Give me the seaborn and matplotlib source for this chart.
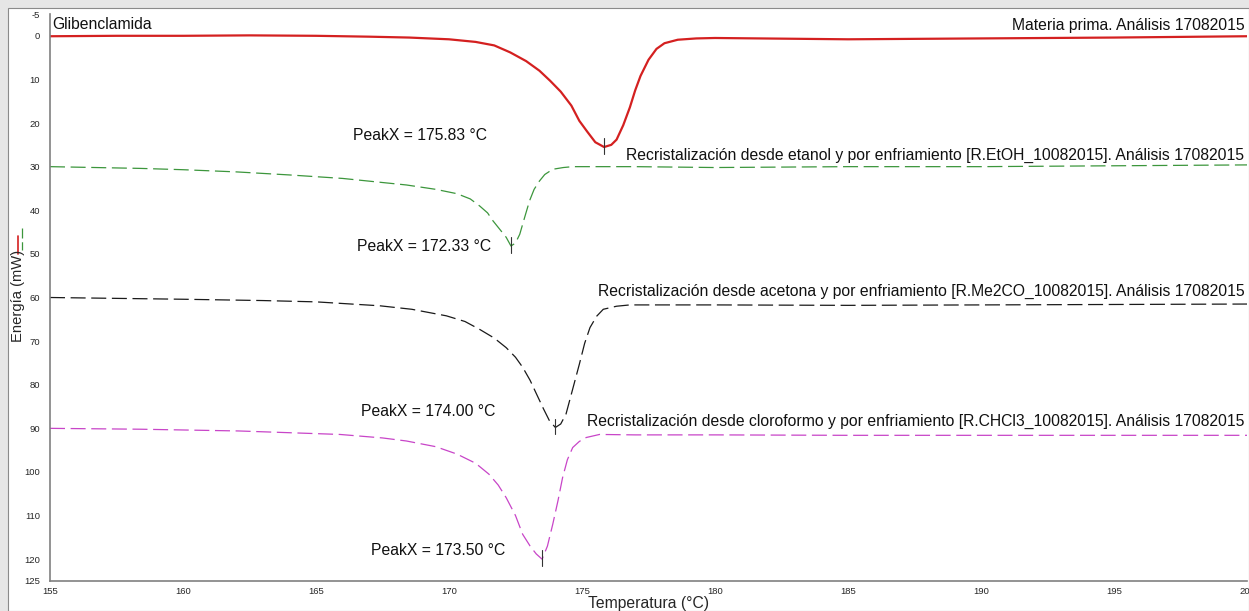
import numpy as np
import pandas as pd
import matplotlib
matplotlib.use("Agg")
import matplotlib.pyplot as plt
from matplotlib.lines import Line2D
from matplotlib.patches import Rectangle
import seaborn as sns

# ---------------- data ----------------
red_T = [155, 157.5, 160, 162.5, 165, 167, 168.5, 170, 171, 171.7, 172.3, 172.9, 173.4, 173.8,
         174.2, 174.6, 174.9, 175.2, 175.5, 175.83, 176.1, 176.3, 176.55, 176.8, 177.0, 177.2,
         177.5, 177.8, 178.1, 178.6, 179.3, 180, 185, 190, 195, 200]
red_E = [0.1, 0.0, 0.0, -0.1, 0.0, 0.2, 0.4, 0.8, 1.4, 2.2, 3.8, 5.8, 8.0, 10.3,
         12.8, 16.0, 19.5, 22.0, 24.4, 25.5, 25.0, 23.8, 20.5, 16.4, 12.5, 9.2,
         5.5, 3.0, 1.7, 0.9, 0.6, 0.5, 0.8, 0.6, 0.4, 0.1]

green_T = [155, 158.4, 160, 162, 164, 166, 168.4, 169.5, 170.3, 170.8, 171.15, 171.45, 171.65,
           171.9, 172.15, 172.33, 172.5, 172.66, 172.85, 173.03, 173.2, 173.4, 173.6, 173.9,
           174.3, 174.65, 177, 180, 185, 190, 195, 200]
green_E = [30.0, 30.4, 30.7, 31.2, 31.9, 32.7, 34.2, 35.2, 36.2, 37.4, 39.0, 40.6, 42.4,
           44.3, 46.2, 48.2, 47.5, 45.5, 41.5, 37.8, 35.2, 33.3, 31.8, 30.6,
           30.2, 30.0, 30.0, 30.2, 30.0, 30.0, 29.8, 29.6]

black_T = [155, 160, 163, 165, 167.4, 168.6, 169.9, 170.6, 171.15, 171.7, 172.15, 172.5, 172.77,
           173.05, 173.28, 173.55, 173.78, 174.0, 174.2, 174.4, 174.65, 174.9, 175.1, 175.3,
           175.55, 175.8, 176.3, 176.8, 180, 185, 190, 195, 200]
black_E = [60.0, 60.4, 60.7, 61.0, 61.9, 62.7, 64.2, 65.5, 67.3, 69.3, 71.5, 73.7, 76.0,
           79.0, 82.0, 85.5, 88.3, 89.8, 89.0, 86.7, 81.0, 75.3, 70.5, 66.9,
           64.3, 62.7, 62.0, 61.7, 61.7, 61.8, 61.7, 61.6, 61.5]

mag_T = [155, 158.4, 162.1, 165.9, 167.5, 168.4, 169.5, 170.3, 171.0, 171.5, 171.85, 172.15,
         172.5, 172.77, 173.05, 173.28, 173.5, 173.7, 173.9, 174.1, 174.27, 174.45, 174.65,
         174.9, 175.16, 175.66, 177, 180, 185, 190, 195, 200]
mag_E = [90.0, 90.2, 90.6, 91.4, 92.2, 92.9, 94.2, 95.9, 98.0, 100.5, 103.0, 105.9,
         110.0, 114.3, 117.0, 118.8, 120.0, 117.0, 112.0, 106.5, 101.3, 97.2, 94.4,
         93.0, 92.1, 91.4, 91.5, 91.5, 91.6, 91.6, 91.6, 91.6]

peak_T = [175.83, 172.33, 174.00, 173.50]
peak_E = [25.5, 48.2, 89.8, 120.0]
peak_labels = ["PeakX = 175.83 °C", "PeakX = 172.33 °C", "PeakX = 174.00 °C", "PeakX = 173.50 °C"]

series_titles = [
    "Materia prima. Análisis 17082015",
    "Recristalización desde etanol y por enfriamiento [R.EtOH_10082015]. Análisis 17082015",
    "Recristalización desde acetona y por enfriamiento [R.Me2CO_10082015]. Análisis 17082015",
    "Recristalización desde cloroformo y por enfriamiento [R.CHCl3_10082015]. Análisis 17082015",
]
x_ticks = [155, 160, 165, 170, 175, 180, 185, 190, 195, 200]
y_ticks = [-5, 0, 10, 20, 30, 40, 50, 60, 70, 80, 90, 100, 110, 120, 125]

# ---------------- style ----------------
sns.set_style("white")
plt.rcParams['font.family'] = ['Liberation Sans', 'DejaVu Sans']

W, H = 1249, 611
FS = 11.3
fig = plt.figure(figsize=(W / 100, H / 100), dpi=100)
fig.patch.set_facecolor('#e6e6e6')
fig.patches.append(Rectangle((8 / W, 0), 1 - 8 / W, 1 - 8 / H, transform=fig.transFigure,
                             facecolor='white', edgecolor='#8a8a8a', linewidth=0.8, zorder=-10))

ax = fig.add_axes([50 / W, 1 - 581 / H, (1247 - 50) / W, (581 - 14) / H])
ax.set_facecolor('none')
ax.set_zorder(2)

colors = ['#d42020', '#3c963c', '#1a1a1a', '#c845c8']
datasets = [(red_T, red_E), (green_T, green_E), (black_T, black_E), (mag_T, mag_E)]
for i, (T, E) in enumerate(datasets):
    df = pd.DataFrame({'T': T, 'E': E})
    if i == 0:
        sns.lineplot(data=df, x='T', y='E', ax=ax, color=colors[i], linewidth=1.6,
                     estimator=None, sort=False)
    else:
        sns.lineplot(data=df, x='T', y='E', ax=ax, color=colors[i], linewidth=0.9,
                     estimator=None, sort=False)
        ax.lines[-1].set_dashes((12, 4.5))

# peak tick marks
for pt, pe in zip(peak_T, peak_E):
    ax.plot([pt, pt], [pe - 2.0, pe + 1.6], color='#333333', linewidth=0.8)

# annotations
peak_text_pos = [(168.92, 22.9), (169.05, 48.4), (169.22, 86.2), (169.6, 117.9)]
for (tx, ty), lab in zip(peak_text_pos, peak_labels):
    ax.text(tx, ty, lab, ha='center', va='center', fontsize=FS, color='#111111')

title_y = [-2.3, 27.5, 58.5, 88.5]
for ty, lab in zip(title_y, series_titles):
    ax.text(199.9, ty, lab, ha='right', va='center', fontsize=FS, color='#111111')
ax.text(155.1, -2.5, "Glibenclamida", ha='left', va='center', fontsize=FS, color='#111111')

ax.set_xlim(155, 200)
ax.set_ylim(125, -5)
ax.set_xticks(x_ticks)
ax.set_yticks(y_ticks)
ax.set_xticklabels([str(v) for v in x_ticks], fontsize=6.8)
ax.set_yticklabels([str(v) for v in y_ticks], fontsize=6.8)
ax.tick_params(axis='y', direction='out', length=3, width=0.8, color='#666666', pad=4)
ax.tick_params(axis='x', direction='inout', length=3, width=0.8, color='#666666', pad=3)
for s in ['top', 'right']:
    ax.spines[s].set_visible(False)
for s in ['left', 'bottom']:
    ax.spines[s].set_color('#808080')
    ax.spines[s].set_linewidth(1.2)
ax.set_xlabel("Temperatura (°C)", fontsize=FS, labelpad=0)
ax.set_ylabel("")
fig.text(18 / W, 1 - 296 / H, "Energía (mW)", rotation=90, ha='center', va='center', fontsize=10.6)

# legend marks at left
fig.add_artist(Line2D([18 / W, 18 / W], [1 - 236 / H, 1 - 254 / H], transform=fig.transFigure,
                      color=colors[0], linewidth=1.2))
fig.add_artist(Line2D([22 / W, 22 / W], [1 - 228 / H, 1 - 250 / H], transform=fig.transFigure,
                      color=colors[1], linewidth=0.9, dashes=(8, 3)))

fig.savefig("out.png", dpi=100, facecolor=fig.get_facecolor())
